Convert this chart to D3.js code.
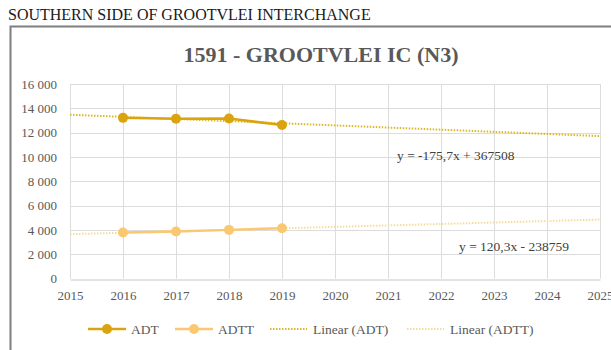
<!DOCTYPE html>
<html>
<head>
<meta charset="utf-8">
<script src="https://cdn.jsdelivr.net/npm/d3@7"></script>
<style>
  html, body { margin: 0; padding: 0; background: #ffffff; }
  svg { display: block; }
  svg text { font-family: "Liberation Serif", "DejaVu Serif", serif !important; }
</style>
</head>
<body>
<svg id="chart" width="611" height="350"></svg>
<script>
// Traffic counts at the Grootvlei interchange (N3)
const years = [2016, 2017, 2018, 2019];
const adt = [13215, 13140, 13160, 12620];
const adtt = [3785, 3860, 4000, 4140];

// Linear trend lines (slope, intercept) as reported on the chart
const trendSlopes = [-175.7, 120.3];
const trendIntercepts = [367508, -238759];
const trendLabels = ["y = -175,7x + 367508", "y = 120,3x - 238759"];

const xTicks = [2015, 2016, 2017, 2018, 2019, 2020, 2021, 2022, 2023, 2024, 2025];
const yTicks = [0, 2000, 4000, 6000, 8000, 10000, 12000, 14000, 16000];

const seriesNames = ["ADT", "ADTT", "Linear (ADT)", "Linear (ADTT)"];
const lineColors = ["#dba40e", "#fbc872"];
const trendColors = ["#d9b82a", "#f6dc9c"];

const svg = d3.select("#chart");

// Outer chart frame
svg.append("rect")
  .attr("x", 10.5).attr("y", 26.5)
  .attr("width", 640).attr("height", 340)
  .attr("fill", "#ffffff")
  .attr("stroke", "#7f7f7f").attr("stroke-width", 2);

svg.append("text")
  .attr("x", 8).attr("y", 20)
  .attr("font-size", 16)
  .attr("fill", "#1a1a1a")
  .text("SOUTHERN SIDE OF GROOTVLEI INTERCHANGE");

svg.append("text")
  .attr("x", 321).attr("y", 62)
  .attr("text-anchor", "middle")
  .attr("font-size", 22)
  .attr("font-weight", "bold")
  .attr("fill", "#595959")
  .text("1591 - GROOTVLEI IC (N3)");

const x = d3.scaleLinear().domain([2015, 2025]).range([70, 600]);
const y = d3.scaleLinear().domain([0, 16000]).range([278.5, 84]);

// Gridlines
const grid = svg.append("g");
grid.selectAll("line.h").data(yTicks.slice(1)).join("line")
  .attr("x1", x(2015)).attr("x2", x(2025))
  .attr("y1", d => Math.round(y(d)) + 0.5).attr("y2", d => Math.round(y(d)) + 0.5)
  .attr("stroke", "#dcdcdc").attr("stroke-width", 1);
grid.selectAll("line.v").data(xTicks).join("line")
  .attr("x1", d => Math.round(x(d)) + 0.5).attr("x2", d => Math.round(x(d)) + 0.5)
  .attr("y1", y(16000)).attr("y2", y(0))
  .attr("stroke", "#dcdcdc").attr("stroke-width", 1);

// Axes
const yAxis = d3.axisLeft(y).tickValues(yTicks).tickSize(0).tickPadding(13)
  .tickFormat(d => d3.format(",")(d).replace(/,/g, "\u00a0"));
const gy = svg.append("g").attr("transform", `translate(${x(2015)},0)`).call(yAxis)
  .attr("font-family", null);
gy.select(".domain").remove();
gy.selectAll("text").attr("font-size", 13).attr("fill", "#595959");

const xAxis = d3.axisBottom(x).tickValues(xTicks).tickSize(0).tickPadding(11)
  .tickFormat(d3.format("d"));
const gx = svg.append("g").attr("transform", `translate(0,${Math.round(y(0)) + 0.5})`).call(xAxis)
  .attr("font-family", null);
gx.select(".domain").attr("stroke", "#c8c8c8");
gx.selectAll("text").attr("font-size", 13).attr("fill", "#595959");

// Trend lines across the full x range
const trendGroup = svg.append("g");
trendSlopes.forEach((m, i) => {
  const b = trendIntercepts[i];
  const ends = [2015, 2025].map(t => [x(t), y(m * t + b)]);
  trendGroup.append("path")
    .attr("d", d3.line()(ends))
    .attr("fill", "none")
    .attr("stroke", trendColors[i])
    .attr("stroke-width", 2)
    .attr("stroke-dasharray", "1.5,1.5");
});

// Data series
const line = d3.line().x(d => x(d[0])).y(d => y(d[1]));
[adt, adtt].forEach((vals, i) => {
  const pts = years.map((yr, j) => [yr, vals[j]]);
  const g = svg.append("g");
  g.append("path").attr("d", line(pts))
    .attr("fill", "none").attr("stroke", lineColors[i]).attr("stroke-width", 2.5);
  g.selectAll("circle").data(pts).join("circle")
    .attr("cx", d => x(d[0])).attr("cy", d => y(d[1])).attr("r", 5)
    .attr("fill", lineColors[i]);
});

// Trend equations
const eqPos = [[397, 160], [459, 251]];
trendLabels.forEach((t, i) => {
  svg.append("text")
    .attr("x", eqPos[i][0]).attr("y", eqPos[i][1])
    .attr("font-size", 13.5).attr("fill", "#404040")
    .text(t);
});

// Legend
const legendY = 329;
const legendItems = [
  { x: 88, type: "line", color: lineColors[0] },
  { x: 175, type: "line", color: lineColors[1] },
  { x: 270, type: "trend", color: trendColors[0] },
  { x: 407, type: "trend", color: trendColors[1] }
];
const legend = svg.append("g");
legendItems.forEach((it, i) => {
  if (it.type === "line") {
    legend.append("line")
      .attr("x1", it.x).attr("x2", it.x + 38).attr("y1", legendY).attr("y2", legendY)
      .attr("stroke", it.color).attr("stroke-width", 2.5);
    legend.append("circle").attr("cx", it.x + 19).attr("cy", legendY).attr("r", 5)
      .attr("fill", it.color);
  } else {
    legend.append("line")
      .attr("x1", it.x).attr("x2", it.x + 37).attr("y1", legendY).attr("y2", legendY)
      .attr("stroke", it.color).attr("stroke-width", 2)
      .attr("stroke-dasharray", "1.5,1.5");
  }
  legend.append("text")
    .attr("x", it.x + 43).attr("y", legendY + 4.5)
    .attr("font-size", 13.5).attr("fill", "#595959")
    .text(seriesNames[i]);
});
</script>
</body>
</html>
